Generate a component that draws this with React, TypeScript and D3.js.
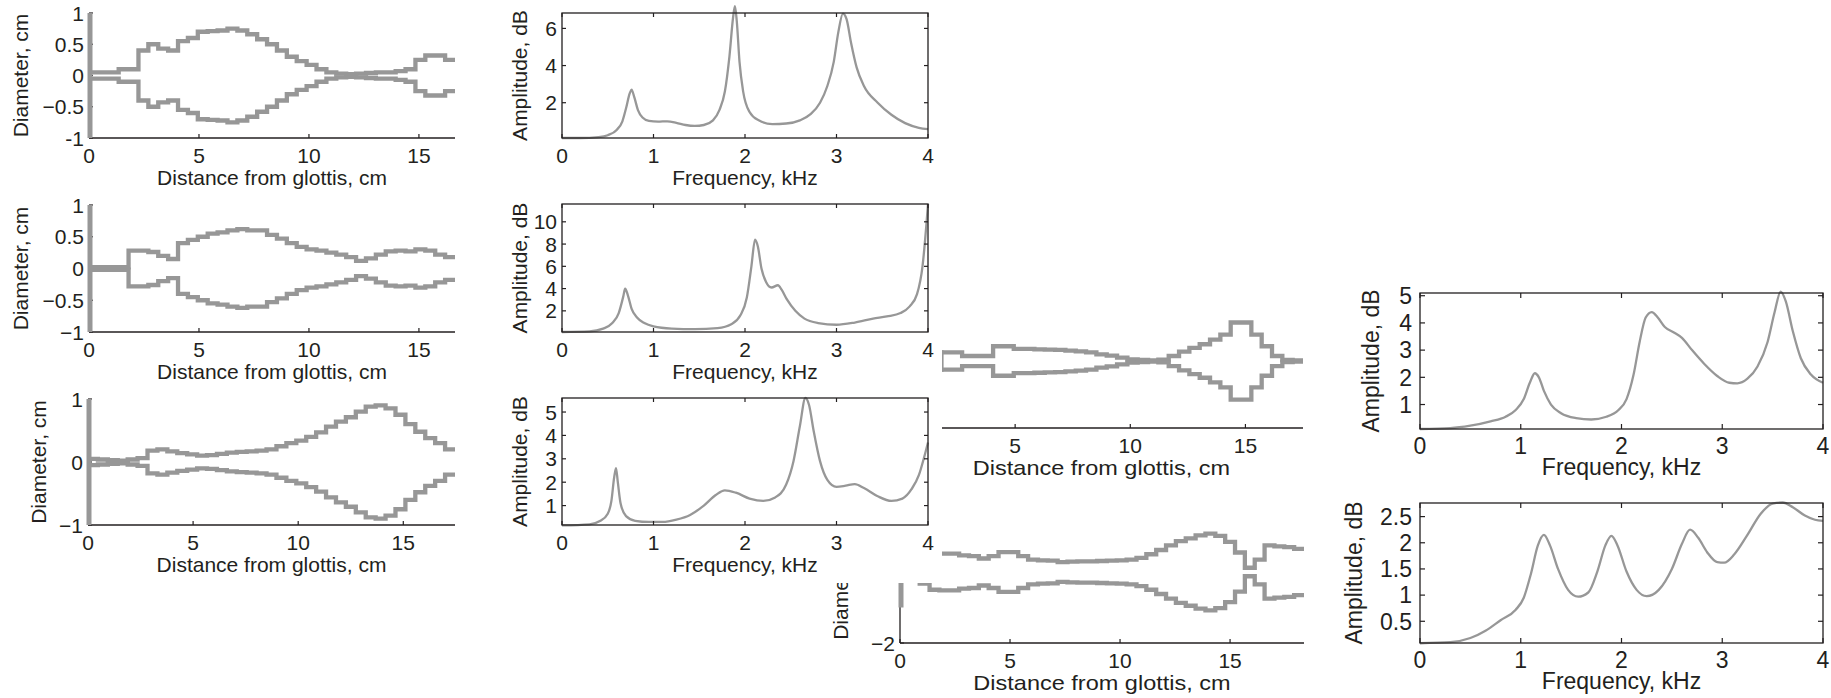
import React from 'react';
import * as d3 from 'd3';

const FONT = '"Liberation Sans", Arial, Helvetica, sans-serif';
const INK = '#231f20';
const GRAY = '#979797';

// ---- spectra: [frequency kHz, amplitude dB] ----
const spectrumA = [
  [0, 0.1], [0.2, 0.1], [0.4, 0.15], [0.5, 0.25], [0.6, 0.55], [0.66, 1.0], [0.7, 1.7], [0.74, 2.5],
  [0.76, 2.7], [0.79, 2.3], [0.83, 1.6], [0.88, 1.2], [0.95, 1.02], [1.05, 0.98], [1.15, 1.0], [1.25, 0.92],
  [1.35, 0.8], [1.45, 0.75], [1.55, 0.8], [1.65, 1.05], [1.72, 1.6], [1.78, 2.6], [1.83, 4.5], [1.87, 6.6],
  [1.89, 7.2], [1.91, 6.4], [1.94, 4.2], [1.98, 2.6], [2.05, 1.5], [2.15, 1.05], [2.3, 0.85], [2.45, 0.88],
  [2.6, 1.05], [2.72, 1.4], [2.82, 2.0], [2.9, 2.9], [2.97, 4.2], [3.02, 5.8], [3.07, 6.8], [3.11, 6.5],
  [3.16, 5.2], [3.22, 3.9], [3.3, 2.9], [3.45, 2.0], [3.6, 1.35], [3.75, 0.9], [3.9, 0.65], [4.0, 0.58],
];
const spectrumB = [
  [0, 0.1], [0.3, 0.15], [0.45, 0.4], [0.55, 0.9], [0.62, 1.8], [0.67, 3.3], [0.69, 4.0], [0.72, 3.4],
  [0.76, 2.2], [0.82, 1.4], [0.9, 0.9], [1.0, 0.6], [1.2, 0.4], [1.45, 0.35], [1.7, 0.45], [1.85, 0.8],
  [1.95, 1.6], [2.02, 3.2], [2.07, 6.0], [2.11, 8.4], [2.14, 7.8], [2.18, 5.8], [2.23, 4.6], [2.29, 4.1],
  [2.36, 4.3], [2.4, 3.9], [2.46, 3.0], [2.55, 2.0], [2.65, 1.3], [2.8, 0.9], [3.0, 0.75], [3.2, 0.95],
  [3.4, 1.3], [3.55, 1.5], [3.7, 1.8], [3.8, 2.4], [3.88, 3.5], [3.94, 6.0], [3.98, 9.5], [4.0, 11.6],
];
const spectrumC = [
  [0, 0.15], [0.3, 0.2], [0.42, 0.35], [0.5, 0.65], [0.54, 1.2], [0.57, 2.2], [0.59, 2.6], [0.61, 2.0],
  [0.64, 1.1], [0.7, 0.55], [0.8, 0.35], [0.95, 0.3], [1.1, 0.3], [1.25, 0.4], [1.4, 0.6], [1.55, 1.0],
  [1.68, 1.45], [1.78, 1.65], [1.9, 1.55], [2.05, 1.3], [2.2, 1.2], [2.33, 1.35], [2.45, 1.9], [2.53, 2.9],
  [2.6, 4.4], [2.66, 5.6], [2.7, 5.3], [2.75, 4.2], [2.82, 2.9], [2.9, 2.1], [3.0, 1.8], [3.1, 1.85],
  [3.2, 1.92], [3.3, 1.75], [3.45, 1.4], [3.6, 1.2], [3.72, 1.3], [3.82, 1.7], [3.9, 2.3], [3.96, 3.1], [4.0, 3.7],
];
const spectrumD = [
  [0, 0.1], [0.3, 0.13], [0.5, 0.22], [0.7, 0.38], [0.85, 0.55], [0.95, 0.8], [1.03, 1.2], [1.09, 1.8],
  [1.14, 2.15], [1.18, 2.0], [1.23, 1.5], [1.3, 1.0], [1.4, 0.68], [1.55, 0.5], [1.7, 0.45], [1.85, 0.55],
  [1.97, 0.8], [2.05, 1.2], [2.12, 2.1], [2.18, 3.3], [2.24, 4.2], [2.3, 4.4], [2.36, 4.2], [2.43, 3.85],
  [2.52, 3.65], [2.6, 3.45], [2.7, 3.0], [2.82, 2.5], [2.95, 2.05], [3.07, 1.8], [3.15, 1.78], [3.25, 1.95],
  [3.35, 2.4], [3.45, 3.3], [3.52, 4.4], [3.58, 5.15], [3.63, 4.8], [3.7, 3.7], [3.78, 2.7], [3.88, 2.1], [4.0, 1.8],
];
const spectrumE = [
  [0, 0.08], [0.3, 0.1], [0.5, 0.18], [0.65, 0.32], [0.8, 0.52], [0.95, 0.72], [1.03, 0.95], [1.1, 1.4],
  [1.17, 1.95], [1.23, 2.15], [1.29, 1.95], [1.37, 1.5], [1.47, 1.1], [1.57, 0.97], [1.67, 1.05], [1.76, 1.45],
  [1.84, 1.95], [1.9, 2.13], [1.96, 1.95], [2.05, 1.45], [2.15, 1.1], [2.25, 0.98], [2.37, 1.1], [2.5, 1.5],
  [2.6, 1.98], [2.68, 2.25], [2.76, 2.1], [2.85, 1.82], [2.95, 1.63], [3.02, 1.62], [3.12, 1.78], [3.25, 2.15],
  [3.38, 2.55], [3.5, 2.75], [3.6, 2.77], [3.7, 2.68], [3.82, 2.52], [3.92, 2.44], [4.0, 2.42],
];

// ---- vocal tract profiles: half-diameter per section, cm ----
const tractA = [0.05, 0.05, 0.05, 0.1, 0.1, 0.4, 0.5, 0.43, 0.4, 0.55, 0.6, 0.7, 0.71, 0.72, 0.75, 0.72, 0.66, 0.58, 0.5,
  0.4, 0.3, 0.23, 0.17, 0.1, 0.05, 0.03, 0.02, 0.03, 0.04, 0.05, 0.05, 0.07, 0.1, 0.25, 0.32, 0.32, 0.25];
const tractB = [0.02, 0.02, 0.02, 0.02, 0.28, 0.28, 0.26, 0.2, 0.15, 0.4, 0.45, 0.5, 0.55, 0.57, 0.6, 0.62, 0.6, 0.6, 0.53,
  0.47, 0.4, 0.34, 0.3, 0.28, 0.25, 0.22, 0.18, 0.12, 0.16, 0.22, 0.27, 0.28, 0.27, 0.3, 0.28, 0.22, 0.18];
const tractC = [0.05, 0.04, 0.03, 0.02, 0.04, 0.06, 0.18, 0.2, 0.17, 0.14, 0.12, 0.1, 0.11, 0.13, 0.15, 0.16, 0.17, 0.18,
  0.2, 0.25, 0.3, 0.34, 0.4, 0.47, 0.56, 0.64, 0.71, 0.8, 0.88, 0.9, 0.85, 0.75, 0.6, 0.48, 0.38, 0.3, 0.2];
const tractD = [0.26, 0.26, 0.15, 0.15, 0.15, 0.44, 0.44, 0.36, 0.36, 0.35, 0.34, 0.33, 0.31, 0.29, 0.26, 0.2, 0.16, 0.1,
  0.05, 0.03, 0.02, 0.04, 0.15, 0.28, 0.39, 0.5, 0.64, 0.79, 1.15, 1.15, 0.79, 0.44, 0.15, 0.03, 0.02];
const tractE = [0.22, 0.22, 0.33, 0.5, 0.52, 0.52, 0.47, 0.45, 0.38, 0.45, 0.56, 0.56, 0.45, 0.35, 0.33, 0.32, 0.28, 0.29,
  0.3, 0.3, 0.31, 0.32, 0.33, 0.35, 0.4, 0.5, 0.62, 0.75, 0.87, 0.95, 1.03, 1.08, 1.02, 0.85, 0.55, 0.12, 0.35, 0.75,
  0.72, 0.7, 0.65];

const distTicks = [0, 5, 10, 15];
const freqTicks = [0, 1, 2, 3, 4];

type TxtProps = { x: number; y: number; size?: number; anchor?: string; rotate?: boolean; sx?: number; dy?: string; children: React.ReactNode };
const Txt = ({ x, y, size = 21, anchor = 'middle', rotate = false, sx = 1, dy, children }: TxtProps) => (
  <text transform={`translate(${x},${y})${rotate ? ' rotate(-90)' : ''}${sx !== 1 ? ` scale(${sx},1)` : ''}`}
    textAnchor={anchor} fontSize={size} fontFamily={FONT} fill={INK} dy={dy}>{children}</text>
);

type TractProps = {
  x0: number; x1: number; yBottom: number; yTop: number; xMax: number; yLim: number;
  radii: number[]; start: number; end: number; yTicks: number[]; yTickLabels: string[];
  labelX: number; labelY?: number; closeLeft?: boolean; titleSx?: number; clip?: string;
};

const TractPanel = (p: TractProps) => {
  const x = d3.scaleLinear().domain([0, p.xMax]).range([p.x0, p.x1]);
  const y = d3.scaleLinear().domain([-p.yLim, p.yLim]).range([p.yBottom, p.yTop]);
  const dx = (p.end - p.start) / p.radii.length;
  const pts = p.radii.map((r, i) => [p.start + i * dx, r] as [number, number]);
  pts.push([p.end, p.radii[p.radii.length - 1]]);
  const step = d3.line<[number, number]>().curve(d3.curveStepAfter).x(d => x(d[0]));
  const upper = step.y(d => y(d[1]))(pts);
  const lower = step.y(d => y(-d[1]))(pts);
  const ax = x(0);
  return (
    <g clipPath={p.clip}>
      <line x1={ax} x2={ax} y1={p.yBottom} y2={p.yTop} stroke={INK} strokeWidth={1.3} />
      <line x1={ax} x2={p.x1} y1={p.yBottom} y2={p.yBottom} stroke={INK} strokeWidth={1.3} />
      {distTicks.map(t => (
        <g key={t}>
          <line x1={x(t)} x2={x(t)} y1={p.yBottom} y2={p.yBottom - 4} stroke={INK} strokeWidth={1.2} />
          <Txt x={x(t)} y={p.yBottom + 25}>{t}</Txt>
        </g>
      ))}
      {p.yTicks.map((t, i) => (
        <g key={t}>
          <line x1={ax} x2={ax + 4} y1={y(t)} y2={y(t)} stroke={INK} strokeWidth={1.2} />
          <Txt x={ax - 5} y={y(t)} anchor="end" dy="0.36em">{p.yTickLabels[i]}</Txt>
        </g>
      ))}
      <Txt x={(p.x0 + p.x1) / 2} y={p.yBottom + 47} sx={p.titleSx ?? 1}>Distance from glottis, cm</Txt>
      <Txt x={p.labelX} y={p.labelY ?? (p.yBottom + p.yTop) / 2} rotate dy="0.36em">Diameter, cm</Txt>
      <line x1={ax + 1} x2={ax + 1} y1={y(-1)} y2={y(1)} stroke={GRAY} strokeWidth={5} />
      <path d={upper ?? ''} fill="none" stroke={GRAY} strokeWidth={4.3} />
      <path d={lower ?? ''} fill="none" stroke={GRAY} strokeWidth={4.3} />
      {p.closeLeft && (
        <line x1={x(p.start)} x2={x(p.start)} y1={y(-p.radii[0]) + 2} y2={y(p.radii[0]) - 2} stroke={GRAY} strokeWidth={4.3} />
      )}
    </g>
  );
};

type SpecProps = {
  x0: number; x1: number; yBottom: number; yTop: number; yMin: number; yMax: number;
  data: number[][]; yTicks: number[]; labelX: number; size?: number; tick?: number;
};

const SpectrumPanel = (p: SpecProps) => {
  const size = p.size ?? 21;
  const tl = p.tick ?? 4;
  const x = d3.scaleLinear().domain([0, 4]).range([p.x0, p.x1]);
  const y = d3.scaleLinear().domain([p.yMin, p.yMax]).range([p.yBottom, p.yTop]);
  const line = d3.line<number[]>().curve(d3.curveMonotoneX).x(d => x(d[0])).y(d => y(d[1]));
  return (
    <g>
      <path d={line(p.data) ?? ''} fill="none" stroke={GRAY} strokeWidth={2.3} />
      <rect x={p.x0} y={p.yTop} width={p.x1 - p.x0} height={p.yBottom - p.yTop} fill="none" stroke={INK} strokeWidth={1.3} />
      {freqTicks.map(t => (
        <g key={t}>
          <line x1={x(t)} x2={x(t)} y1={p.yBottom} y2={p.yBottom - tl} stroke={INK} strokeWidth={1.2} />
          <line x1={x(t)} x2={x(t)} y1={p.yTop} y2={p.yTop + tl} stroke={INK} strokeWidth={1.2} />
          <Txt x={x(t)} y={p.yBottom + 25} size={size}>{t}</Txt>
        </g>
      ))}
      {p.yTicks.map(t => (
        <g key={t}>
          <line x1={p.x0} x2={p.x0 + tl} y1={y(t)} y2={y(t)} stroke={INK} strokeWidth={1.2} />
          <line x1={p.x1} x2={p.x1 - tl} y1={y(t)} y2={y(t)} stroke={INK} strokeWidth={1.2} />
          <Txt x={p.x0 - (size > 21 ? 8 : 5)} y={y(t)} anchor="end" dy="0.36em" size={size}>{t}</Txt>
        </g>
      ))}
      <Txt x={(p.x0 + p.x1) / 2} y={p.yBottom + (size > 21 ? 46 : 47)} size={size}>Frequency, kHz</Txt>
      <Txt x={p.labelX} y={(p.yBottom + p.yTop) / 2} rotate dy="0.36em" size={size}>Amplitude, dB</Txt>
    </g>
  );
};

export default function App() {
  return (
    <div style={{ position: 'absolute', left: 0, top: 0 }}>
      <svg width={1831} height={698} style={{ display: 'block', background: '#fff' }}>
        <defs>
          <clipPath id="clipMid">
            <rect x={942} y={0} width={420} height={490} />
          </clipPath>
          <clipPath id="clipLow">
            <rect x={942} y={488} width={420} height={210} />
            <rect x={0} y={583} width={1362} height={115} />
          </clipPath>
        </defs>

        <TractPanel x0={89} x1={455} yBottom={138} yTop={13} xMax={16.64} yLim={1} radii={tractA} start={0} end={16.64}
          yTicks={[-1, -0.5, 0, 0.5, 1]} yTickLabels={['-1', '\u22120.5', '0', '0.5', '1']} labelX={20} />
        <TractPanel x0={89} x1={455} yBottom={332} yTop={205} xMax={16.64} yLim={1} radii={tractB} start={0} end={16.64}
          yTicks={[-1, -0.5, 0, 0.5, 1]} yTickLabels={['\u22121', '\u22120.5', '0', '0.5', '1']} labelX={20} />
        <TractPanel x0={88} x1={455} yBottom={525} yTop={399} xMax={17.46} yLim={1} radii={tractC} start={0} end={17.46}
          yTicks={[-1, 0, 1]} yTickLabels={['\u22121', '0', '1']} labelX={38} />
        <TractPanel x0={900} x1={1303} yBottom={428} yTop={294} xMax={17.5} yLim={2} radii={tractD} start={1.8} end={17.5}
          yTicks={[-2, 0, 2]} yTickLabels={['\u22122', '0', '2']} labelX={840} closeLeft titleSx={1.12} clip="url(#clipMid)" />
        <TractPanel x0={900} x1={1304} yBottom={643} yTop={501} xMax={18.36} yLim={2} radii={tractE} start={0} end={18.36}
          yTicks={[-2, 0, 2]} yTickLabels={['\u22122', '0', '2']} labelX={840} labelY={578} titleSx={1.12} clip="url(#clipLow)" />

        <SpectrumPanel x0={562} x1={928} yBottom={138} yTop={13} yMin={0.1} yMax={6.83} data={spectrumA} yTicks={[2, 4, 6]} labelX={519} />
        <SpectrumPanel x0={562} x1={928} yBottom={332} yTop={204} yMin={0.1} yMax={11.6} data={spectrumB} yTicks={[2, 4, 6, 8, 10]} labelX={519} />
        <SpectrumPanel x0={562} x1={928} yBottom={525} yTop={398} yMin={0.17} yMax={5.6} data={spectrumC} yTicks={[1, 2, 3, 4, 5]} labelX={519} />
        <SpectrumPanel x0={1420} x1={1823} yBottom={429} yTop={293} yMin={0.1} yMax={5.1} data={spectrumD} yTicks={[1, 2, 3, 4, 5]} labelX={1371} size={23} tick={5} />
        <SpectrumPanel x0={1420} x1={1823} yBottom={643} yTop={503} yMin={0.085} yMax={2.76} data={spectrumE} yTicks={[0.5, 1, 1.5, 2, 2.5]} labelX={1354} size={23} tick={5} />
      </svg>
    </div>
  );
}
